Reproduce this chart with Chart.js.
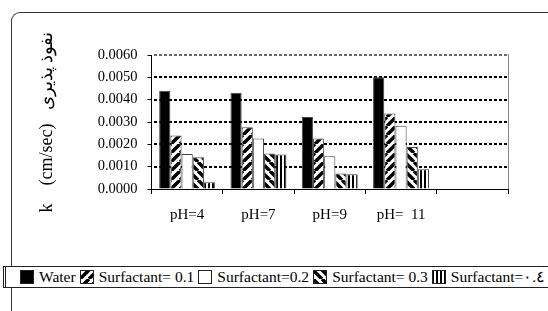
<!DOCTYPE html>
<html>
<head>
<meta charset="utf-8">
<script src="https://cdn.jsdelivr.net/npm/chart.js@4.4.0/dist/chart.umd.min.js"></script>
<style>
  html, body { margin: 0; padding: 0; background: #fff; }
  #wrap { position: relative; width: 548px; height: 311px; overflow: hidden; }
  #frame { position: absolute; left: 11px; top: 12px; width: 700px; height: 400px;
           border-left: 1.5px solid #333; border-top: 1.5px solid #333; border-top-left-radius: 9px; }
  #chart { position: absolute; left: 0; top: 0; }
  #legend { position: absolute; left: 3px; top: 266px; width: 600px; height: 20px;
            border: 1px solid #222; border-left: 3px double #222; background: #fff;
            white-space: pre; font-size: 15.5px; color: #000;
            font-family: "Liberation Serif", "Times New Roman", "DejaVu Serif", serif;
            display: flex; align-items: center; padding-left: 14px; box-sizing: content-box; }
  #legend span { display: inline-flex; align-items: center; margin-right: 4px; }
  #legend canvas { margin-right: 5px; }
</style>
</head>
<body>
<div id="wrap">
  <div id="frame"></div>
  <canvas id="chart" width="548" height="311"></canvas>
  <div id="legend"></div>
</div>
<script>
const categories = ['pH=4', 'pH=7', 'pH=9', 'pH=  11', ''];
const seriesNames = ['Water', 'Surfactant= 0.1', 'Surfactant=0.2', 'Surfactant= 0.3', 'Surfactant=\u0660.\u0664'];
const water  = [0.00440, 0.00431, 0.00322, 0.00500, null];
const surf01 = [0.00240, 0.00276, 0.00226, 0.00338, null];
const surf02 = [0.00157, 0.00226, 0.00147, 0.00283, null];
const surf03 = [0.00142, 0.00159, 0.00069, 0.00188, null];
const surf04 = [0.00030, 0.00154, 0.00066, 0.00088, null];
const yTitle = 'k    (cm/sec)   نفوذ پذیری';

// hatch fills like the old excel patterns
function makeFill(kind) {
    if (kind === 0) return '#000';
    if (kind === 2) return '#fff';
    const s = kind === 4 ? 4 : 9;
    const c = document.createElement('canvas');
    c.width = s; c.height = s;
    const g = c.getContext('2d');
    g.fillStyle = '#fff';
    g.fillRect(0, 0, s, s);
    g.strokeStyle = '#000';
    if (kind === 4) {
        g.fillStyle = '#000';
        g.fillRect(0, 0, 2, s);
    } else {
        g.lineWidth = 3.5;
        g.beginPath();
        for (let k = -1; k <= 1; k++) {
            if (kind === 1) {
                g.moveTo(k * s, s); g.lineTo(k * s + s, 0);
            } else {
                g.moveTo(k * s, 0); g.lineTo(k * s + s, s);
            }
        }
        g.stroke();
    }
    return g.createPattern(c, 'repeat');
}

const seriesData = [water, surf01, surf02, surf03, surf04];
const fills = seriesData.map((d, i) => makeFill(i));

Chart.defaults.font.family = '"Liberation Serif", "Times New Roman", "DejaVu Serif", serif';
Chart.defaults.color = '#000';

// dotted gridlines at the y ticks (drawn as short dashes) + grey right edge
const plotLines = {
    id: 'plotLines',
    beforeDatasetsDraw(chart) {
        const a = chart.chartArea, c = chart.ctx, y = chart.scales.y;
        c.save();
        y.ticks.forEach((t) => {
            if (t.value <= 0) return;
            const py = Math.round(y.getPixelForValue(t.value));
            c.fillStyle = t.value >= y.max ? '#666' : '#000';
            for (let x = Math.round(a.left) + 2; x < a.right - 1; x += 5) {
                c.fillRect(x, py - 1, Math.min(3, a.right - 1 - x), 2);
            }
        });
        c.fillStyle = '#888';
        c.fillRect(Math.round(a.right), Math.round(a.top) - 1, 1, Math.round(a.bottom - a.top) + 1);
        c.restore();
    }
};

const ctx = document.getElementById('chart').getContext('2d');
const chart = new Chart(ctx, {
    type: 'bar',
    data: {
        labels: categories,
        datasets: seriesNames.map((name, i) => ({
            label: name,
            data: seriesData[i],
            backgroundColor: fills[i],
            borderColor: '#444',
            borderWidth: 1,
            categoryPercentage: 0.785,
            barPercentage: 1.0
        }))
    },
    options: {
        responsive: false,
        animation: false,
        layout: { padding: { left: 0, right: 40, top: 55, bottom: 0 } },
        plugins: {
            legend: { display: false },
            tooltip: { enabled: false }
        },
        scales: {
            x: {
                afterFit(scale) { scale.height = 122; },
                grid: {
                    offset: true,
                    drawOnChartArea: false,
                    color: '#000',
                    tickLength: 5
                },
                border: { color: '#000', width: 1 },
                ticks: { font: { size: 15 }, padding: 12, maxRotation: 0, autoSkip: false }
            },
            y: {
                min: 0,
                max: 0.006,
                afterFit(scale) { scale.width = 151.5; },
                grid: {
                    drawOnChartArea: false,
                    color: '#000',
                    tickLength: 4
                },
                border: { color: '#000', width: 1 },
                ticks: {
                    stepSize: 0.001,
                    padding: 10,
                    font: { size: 14.5 },
                    callback: (v) => v.toFixed(4)
                },
                title: {
                    display: true,
                    text: yTitle,
                    font: { size: 18 },
                    padding: { top: 36, bottom: 0 }
                }
            }
        }
    },
    plugins: [plotLines]
});

const legendBox = document.getElementById('legend');
seriesNames.forEach((name, i) => {
    const item = document.createElement('span');
    const sw = document.createElement('canvas');
    sw.width = 14; sw.height = 14;
    const g = sw.getContext('2d');
    g.fillStyle = fills[i];
    g.fillRect(0, 0, 14, 14);
    g.strokeStyle = '#222';
    g.strokeRect(0.5, 0.5, 13, 13);
    item.appendChild(sw);
    item.appendChild(document.createTextNode(name));
    legendBox.appendChild(item);
});
</script>
</body>
</html>
